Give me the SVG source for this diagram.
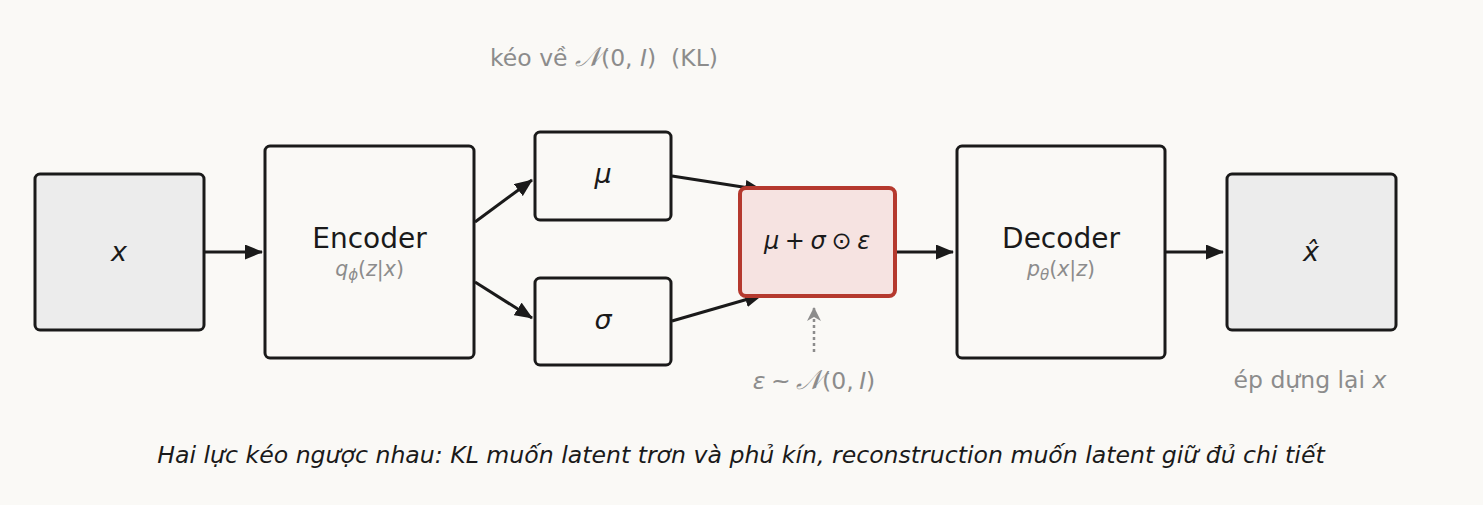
<svg xmlns="http://www.w3.org/2000/svg" width="1483" height="505" viewBox="0 0 1483 505">
<defs>
<marker id="ah" viewBox="0 0 18 15" refX="17" refY="7.5" markerWidth="18" markerHeight="15" markerUnits="userSpaceOnUse" orient="auto"><path d="M0,0 L18,7.5 L0,15 Z" fill="#1a1a1a"/></marker>
<marker id="ahg" viewBox="0 0 14 14" refX="13" refY="7" markerWidth="14" markerHeight="14" markerUnits="userSpaceOnUse" orient="auto"><path d="M0,0 L14,7 L0,14 L4,7 Z" fill="#8c8c8c"/></marker>
</defs>
<style>
.box{fill:#faf9f6;stroke:#1a1a1a;stroke-width:3}
.io{fill:#ececec;stroke:#1a1a1a;stroke-width:3}
.rp{fill:#f6e3e1;stroke:#b5392e;stroke-width:4}
.t{font-family:"DejaVu Sans",sans-serif;fill:#1a1a1a}
.g{font-family:"DejaVu Sans",sans-serif;fill:#8c8c8c}
.i{font-style:italic}
.c{stroke:#1a1a1a;stroke-width:3;fill:none;marker-end:url(#ah)}
</style>
<rect width="1483" height="505" fill="#faf9f6"/>
<g id="connectors">
<line class="c" x1="204" y1="252" x2="262" y2="252"/>
<line class="c" x1="475" y1="222" x2="532" y2="180"/>
<line class="c" x1="475" y1="282" x2="532" y2="318"/>
<line class="c" x1="672" y1="176" x2="762" y2="190"/>
<line class="c" x1="672" y1="321" x2="762" y2="295"/>
<line class="c" x1="896" y1="252" x2="953" y2="252"/>
<line class="c" x1="1166" y1="252" x2="1223" y2="252"/>
<line x1="814" y1="352" x2="814" y2="308" stroke="#8c8c8c" stroke-width="2.5" stroke-dasharray="3,3" marker-end="url(#ahg)"/>
</g>
<g id="x">
<rect class="io" x="35" y="174" width="169" height="156" rx="5"/>
<text class="t i" x="119" y="261" font-size="27" text-anchor="middle">x</text>
</g>
<g id="encoder">
<rect class="box" x="265" y="146" width="209" height="212" rx="5"/>
<text class="t" x="369.5" y="248" font-size="28" text-anchor="middle">Encoder</text>
<text class="g" x="369.5" y="276" font-size="20.5" text-anchor="middle"><tspan class="i">q</tspan><tspan class="i" font-size="15" dy="4">ϕ</tspan><tspan dy="-4">(</tspan><tspan class="i">z</tspan>|<tspan class="i">x</tspan>)</text>
</g>
<g id="mu">
<rect class="box" x="535" y="132" width="136" height="88" rx="5"/>
<text class="t i" x="603" y="183" font-size="27" text-anchor="middle">μ</text>
</g>
<g id="sigma">
<rect class="box" x="535" y="278" width="136" height="87" rx="5"/>
<text class="t i" x="603" y="329" font-size="27" text-anchor="middle">σ</text>
</g>
<g id="reparam">
<rect class="rp" x="740" y="188" width="155" height="108" rx="6"/>
<text class="t" x="817" y="249" font-size="24" text-anchor="middle" word-spacing="-2"><tspan class="i">μ</tspan> + <tspan class="i">σ</tspan> ⊙ <tspan class="i">ε</tspan></text>
</g>
<g id="decoder">
<rect class="box" x="957" y="146" width="208" height="212" rx="5"/>
<text class="t" x="1061" y="248" font-size="28" text-anchor="middle">Decoder</text>
<text class="g" x="1061" y="276" font-size="20.5" text-anchor="middle"><tspan class="i">p</tspan><tspan class="i" font-size="15" dy="4">θ</tspan><tspan dy="-4">(</tspan><tspan class="i">x</tspan>|<tspan class="i">z</tspan>)</text>
</g>
<g id="xhat">
<rect class="io" x="1227" y="174" width="169" height="156" rx="5"/>
<text class="t i" x="1311" y="261" font-size="27" text-anchor="middle">x̂</text>
</g>
<text class="g" x="604" y="66" font-size="23.5" text-anchor="middle" xml:space="preserve">kéo về <tspan class="i" font-size="27">𝒩</tspan>(0, <tspan class="i">I</tspan>)  (KL)</text>
<text class="g" x="814" y="389" font-size="23.5" text-anchor="middle" word-spacing="-2"><tspan class="i">ε</tspan> ~ <tspan class="i" font-size="27">𝒩</tspan>(0, <tspan class="i">I</tspan>)</text>
<text class="g" x="1310" y="388" font-size="23.5" text-anchor="middle">ép dựng lại <tspan class="i">x</tspan></text>
<text class="t i" x="741" y="463" font-size="23.6" text-anchor="middle">Hai lực kéo ngược nhau: KL muốn latent trơn và phủ kín, reconstruction muốn latent giữ đủ chi tiết</text>
</svg>
